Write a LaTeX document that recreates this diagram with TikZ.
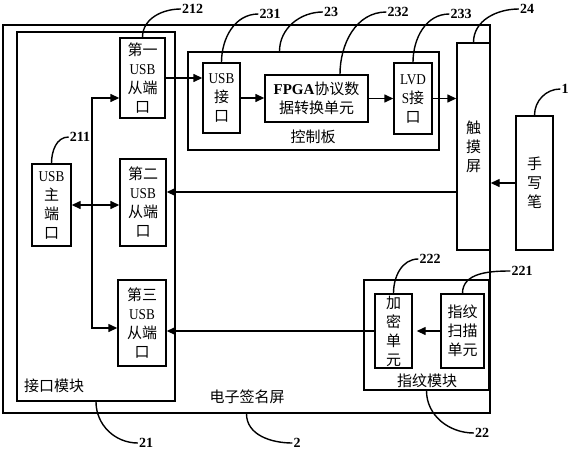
\documentclass[tikz,border=0pt]{standalone}
\usepackage{fontspec}
\setmainfont{Liberation Serif}
\newfontfamily\cjk{Noto Sans CJK SC}
\newfontfamily\latn[FakeStretch=0.88]{Liberation Serif}
\newcommand\eng[1]{{\latn #1}}
\usetikzlibrary{arrows.meta}
\tikzset{
  frame/.style={draw, line width=1.4pt, inner sep=0pt},
  blk/.style={frame, align=center, font=\cjk\fontsize{15}{19}\selectfont},
  tag/.style={font=\cjk\fontsize{15}{19}\selectfont, inner sep=0pt},
  num/.style={font=\fontsize{14}{16}\selectfont\bfseries, inner sep=1pt},
  arr/.style={line width=1.4pt, -{Triangle[length=9pt,width=8pt]}},
  dbl/.style={line width=1.4pt, {Triangle[length=9pt,width=8pt]}-{Triangle[length=9pt,width=8pt]}},
  callout/.style={line width=1.4pt},
}

\begin{document}
\begin{tikzpicture}[x=1pt, y=1pt]
  \useasboundingbox (0,0) rectangle (573,-450);

  \node[frame, minimum width=487pt, minimum height=388pt] (screen) at (246.5,-219) {};
  \node[frame, minimum width=158pt, minimum height=369pt] (iface) at (96,-216.5) {};
  \node[frame, minimum width=251pt, minimum height=98pt] (ctrl) at (313.5,-101) {};
  \node[frame, minimum width=125pt, minimum height=110pt] (fpmod) at (426.5,-335) {};

  \node[tag] (screenlbl) at (247,-397) {电子签名屏};
  \node[tag] (ifacelbl) at (54,-386) {接口模块};
  \node[tag] (ctrllbl) at (313,-137) {控制板};
  \node[tag] (fpmodlbl) at (427,-381) {指纹模块};

  \node[blk, minimum width=45pt, minimum height=80pt] (usb1) at (142.5,-78) {第一\\\eng{USB}\\从端\\口};
  \node[blk, minimum width=46pt, minimum height=87pt] (usb2) at (143,-202.5) {第二\\\eng{USB}\\从端\\口};
  \node[blk, minimum width=48pt, minimum height=86pt] (usb3) at (142,-323) {第三\\\eng{USB}\\从端\\口};
  \node[blk, minimum width=39pt, minimum height=82pt] (usbm) at (51.5,-205) {\eng{USB}\\主\\端\\口};
  \node[blk, minimum width=37pt, minimum height=70pt] (usbif) at (221.5,-98) {\eng{USB}\\接\\口};
  \node[blk, minimum width=103pt, minimum height=47pt] (fpga) at (316.5,-98.5)
    {{\rmfamily\bfseries FPGA}协议数\\据转换单元};
  \node[blk, minimum width=38pt, minimum height=71pt] (lvds) at (413,-98.5) {\eng{LVD}\\\eng{S}接\\口};
  \node[blk, minimum width=33pt, minimum height=207pt] (touch) at (473.5,-146.5) {触\\摸\\屏};
  \node[blk, minimum width=37pt, minimum height=134pt] (pen) at (534.5,-183) {手\\写\\笔};
  \node[blk, minimum width=37pt, minimum height=74pt] (enc) at (393.5,-331) {加\\密\\单\\元};
  \node[blk, minimum width=43pt, minimum height=74pt] (scan) at (462.5,-331) {指纹\\扫描\\单元};

  \draw[arr] (usb1.east) -- (usb1.east -| usbif.west);
  \draw[arr] (usbif.east) -- (usbif.east -| fpga.west);
  \draw[arr] (fpga.east) -- (fpga.east -| lvds.west);
  \draw[arr] (lvds.east) -- (lvds.east -| touch.west);
  \draw[arr] (pen.west) -- (pen.west -| touch.east);
  \coordinate (usb2in) at ([yshift=10.5pt]usb2.east);
  \draw[arr] (usb2in -| touch.west) -- (usb2in);
  \draw[dbl] (usbm.east) -- (usbm.east -| usb2.west);
  \coordinate (busN) at (92,-98);
  \coordinate (busS) at (92,-328);
  \draw[dbl] (busN -| usb1.west) -- (busN) -- (busS) -- (busS -| usb3.west);
  \coordinate (encin) at ([xshift=4pt]enc.east);
  \draw[arr] (scan.west) -- (encin);
  \draw[arr] (enc.west) -- (enc.west -| usb3.east);

  \node[num] (n212) at (192.5,-9) {212};
  \node[num] (n231) at (270,-14) {231};
  \node[num] (n23) at (331,-12) {23};
  \node[num] (n232) at (398,-12) {232};
  \node[num] (n233) at (461,-14) {233};
  \node[num] (n24) at (527,-9) {24};
  \node[num] (n1) at (565,-89) {1};
  \node[num] (n211) at (80,-137) {211};
  \node[num] (n222) at (430,-259) {222};
  \node[num] (n221) at (522,-271) {221};
  \node[num] (n21) at (146,-443) {21};
  \node[num] (n2) at (297,-443) {2};
  \node[num] (n22) at (482,-433) {22};

  \draw[callout] (usb1.north) to[out=90, in=180] (n212.west);
  \draw[callout] (usbif.north) to[out=90, in=180] (n231.west);
  \draw[callout] ([xshift=-34pt]ctrl.north) to[out=90, in=180] (n23.west);
  \draw[callout] ([xshift=23.5pt]fpga.north) to[out=90, in=180] (n232.west);
  \draw[callout] (lvds.north) to[out=90, in=180] (n233.west);
  \draw[callout] (touch.north) to[out=90, in=180] (n24.west);
  \draw[callout] (pen.north) to[out=90, in=180] (n1.west);
  \draw[callout] (usbm.north) to[out=90, in=180] (n211.west);
  \draw[callout] (enc.north) to[out=90, in=180] (n222.west);
  \draw[callout] (scan.north) to[out=90, in=180] (n221.west);
  \draw[callout] (iface.south) to[out=-90, in=180] (n21.west);
  \draw[callout] (screen.south) to[out=-90, in=180] (n2.west);
  \draw[callout] (fpmod.south) to[out=-90, in=180] (n22.west);
\end{tikzpicture}
\end{document}
